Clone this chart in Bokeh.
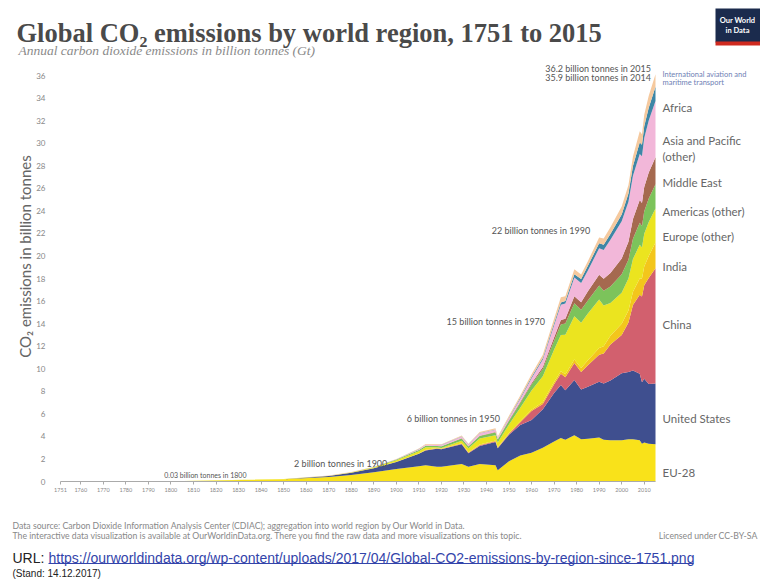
from math import pi
from bokeh.plotting import figure
from bokeh.models import ColumnDataSource, Label, FixedTicker, BoxAnnotation
from bokeh.embed import file_html
from bokeh.resources import INLINE

# ---------------- data (billion tonnes CO2) ----------------
years = [1751, 1800, 1850, 1870, 1880, 1890, 1900, 1910, 1913, 1918, 1920, 1929, 1932,
         1937, 1944, 1945, 1950, 1955, 1960, 1965, 1970, 1973, 1975, 1979, 1982, 1985,
         1990, 1992, 1995, 2000, 2003, 2005, 2008, 2009, 2010, 2012, 2015]

eu28 = [0.009, 0.028, 0.19, 0.40, 0.58, 0.82, 1.10, 1.35, 1.45, 1.30, 1.30, 1.55, 1.30,
        1.55, 1.45, 1.00, 1.80, 2.30, 2.55, 3.00, 3.55, 3.85, 3.70, 4.10, 3.75, 3.80,
        3.90, 3.70, 3.65, 3.65, 3.75, 3.75, 3.65, 3.35, 3.45, 3.35, 3.30]
united_states = [0.0, 0.0005, 0.02, 0.09, 0.19, 0.36, 0.62, 1.10, 1.30, 1.60, 1.55, 1.75, 1.20,
                 1.60, 2.05, 1.95, 2.35, 2.70, 2.90, 3.40, 4.30, 4.70, 4.40, 4.90, 4.40, 4.60,
                 4.95, 5.00, 5.30, 5.95, 5.95, 6.10, 5.90, 5.45, 5.65, 5.30, 5.40]
china = [0, 0, 0, 0, 0, 0, 0.001, 0.01, 0.02, 0.03, 0.03, 0.04, 0.05,
         0.06, 0.07, 0.03, 0.08, 0.25, 0.80, 0.48, 0.78, 1.00, 1.15, 1.50, 1.55, 1.90,
         2.40, 2.65, 3.20, 3.40, 4.40, 5.80, 7.00, 7.60, 8.30, 9.40, 10.20]
india = [0, 0, 0, 0.001, 0.004, 0.01, 0.02, 0.03, 0.04, 0.05, 0.05, 0.06, 0.05,
         0.06, 0.07, 0.07, 0.07, 0.09, 0.12, 0.16, 0.20, 0.23, 0.26, 0.31, 0.37, 0.45,
         0.58, 0.65, 0.78, 0.98, 1.06, 1.17, 1.45, 1.60, 1.66, 1.95, 2.30]
europe_other = [0.001, 0.001, 0.01, 0.02, 0.04, 0.07, 0.14, 0.20, 0.23, 0.05, 0.05, 0.22, 0.35,
                0.55, 0.45, 0.40, 0.75, 1.20, 1.70, 2.30, 2.85, 3.20, 3.50, 3.85, 4.00, 4.15,
                4.30, 3.60, 2.90, 2.75, 2.85, 2.90, 3.00, 2.75, 2.90, 3.00, 3.00]
americas_other = [0, 0, 0.002, 0.008, 0.015, 0.03, 0.06, 0.11, 0.13, 0.12, 0.15, 0.20, 0.16,
                  0.22, 0.26, 0.27, 0.32, 0.42, 0.52, 0.64, 0.80, 0.95, 1.00, 1.15, 1.15, 1.15,
                  1.25, 1.32, 1.45, 1.65, 1.65, 1.80, 1.95, 1.90, 2.00, 2.10, 2.15]
middle_east = [0, 0, 0, 0, 0, 0, 0, 0.001, 0.002, 0.003, 0.004, 0.01, 0.01,
               0.02, 0.03, 0.03, 0.05, 0.08, 0.12, 0.18, 0.28, 0.40, 0.42, 0.62, 0.68, 0.82,
               0.95, 1.05, 1.20, 1.40, 1.60, 1.75, 2.00, 2.05, 2.15, 2.30, 2.40]
asia_pacific_other = [0, 0, 0, 0.002, 0.005, 0.01, 0.03, 0.06, 0.08, 0.10, 0.10, 0.15, 0.15,
                      0.22, 0.20, 0.10, 0.20, 0.30, 0.45, 0.65, 1.10, 1.35, 1.35, 1.65, 1.70, 1.85,
                      2.35, 2.55, 2.95, 3.30, 3.55, 3.85, 4.10, 4.15, 4.35, 4.60, 5.00]
africa = [0, 0, 0, 0, 0.001, 0.002, 0.005, 0.01, 0.012, 0.015, 0.02, 0.025, 0.025,
          0.03, 0.04, 0.04, 0.06, 0.08, 0.10, 0.13, 0.17, 0.20, 0.22, 0.30, 0.35, 0.40,
          0.45, 0.47, 0.52, 0.60, 0.72, 0.85, 1.00, 1.00, 1.05, 1.15, 1.25]
international_transport = [0, 0, 0, 0, 0, 0, 0.02, 0.05, 0.06, 0.05, 0.06, 0.08, 0.06,
                           0.08, 0.10, 0.10, 0.15, 0.20, 0.25, 0.30, 0.40, 0.45, 0.42, 0.45, 0.40, 0.42,
                           0.50, 0.55, 0.60, 0.70, 0.75, 0.85, 1.00, 0.95, 1.00, 1.05, 1.10]

series_keys = ["eu28", "united_states", "china", "india", "europe_other", "americas_other",
               "middle_east", "asia_pacific_other", "africa", "international_transport"]
series_colors = ["#f9e21a", "#3f4f8f", "#d2606e", "#f3c61c", "#ebe41f", "#7cc35b",
                 "#a5694f", "#f2b7d9", "#3d86a6", "#f5c99e"]

y_ticks = list(range(0, 38, 2))
x_ticks = [1751] + list(range(1760, 2011, 10))

# milestone annotations of the world total
ann_years = [1900, 1950, 1970, 1990]
ann_texts = ["2 billion tonnes in 1900", "6 billion tonnes in 1950",
             "15 billion tonnes in 1970", "22 billion tonnes in 1990"]
ann_values = [1.6, 5.6, 14.2, 22.3]

# ---------------- layout constants (page pixels) ----------------
W, H = 760, 580
PX_LEFT, PX_RIGHT = 60, 655      # page x of 1751 and 2015
PY_ZERO, PY_36 = 481, 75         # page y of 0 and 36
xs = (PX_RIGHT - PX_LEFT) / (2015 - 1751)
ys = (PY_ZERO - PY_36) / 36.0
x_start = 1751 - PX_LEFT / xs
x_end = 2015 + (W - PX_RIGHT) / xs
y_end = PY_ZERO / ys
y_start = -(H - PY_ZERO) / ys

p = figure(width=W, height=H, x_range=(x_start, x_end), y_range=(y_start, y_end),
           output_backend="svg", toolbar_location=None,
           min_border_left=0, min_border_right=0, min_border_top=0, min_border_bottom=0)
p.title = None
p.outline_line_color = None
p.xgrid.grid_line_color = None
p.ygrid.grid_line_color = None
p.background_fill_color = "white"
p.border_fill_color = "white"

src = ColumnDataSource(dict(year=years, eu28=eu28, united_states=united_states, china=china,
                            india=india, europe_other=europe_other, americas_other=americas_other,
                            middle_east=middle_east, asia_pacific_other=asia_pacific_other,
                            africa=africa, international_transport=international_transport))
p.varea_stack(stackers=series_keys, x="year", color=series_colors, source=src)
p.line(x=[years[0], years[-1]], y=[0, 0], line_color="#aaaaaa", line_width=1)

# axes drawn at fixed positions inside the frame
p.yaxis.fixed_location = 1751
p.yaxis.ticker = FixedTicker(ticks=y_ticks)
p.yaxis.axis_line_color = None
p.yaxis.major_tick_line_color = None
p.yaxis.minor_tick_line_color = None
p.yaxis.major_label_standoff = 9
p.yaxis.major_label_text_font_size = "8px"
p.yaxis.major_label_text_color = "#888888"
p.yaxis.major_label_text_font = "Lato"

p.xaxis.fixed_location = 0
p.xaxis.ticker = FixedTicker(ticks=x_ticks)
p.xaxis.axis_line_color = None
p.xaxis.major_tick_line_color = "#aaaaaa"
p.xaxis.major_tick_out = 3
p.xaxis.major_tick_in = 0
p.xaxis.minor_tick_line_color = None
p.xaxis.major_label_standoff = 3
p.xaxis.major_label_text_font_size = "5.5px"
p.xaxis.major_label_text_color = "#888888"
p.xaxis.major_label_text_font = "Lato"


def page_label(text, px, py, size, color, font="Lato", style="normal",
               align="left", baseline="alphabetic", **kw):
    p.add_layout(Label(x=px, y=H - py, x_units="screen", y_units="screen", text=text,
                       text_font=font, text_font_size=size, text_color=color,
                       text_font_style=style, text_align=align, text_baseline=baseline, **kw))


def page_box(x0, x1, y0, y1, color):
    p.add_layout(BoxAnnotation(left=x0, right=x1, bottom=H - y1, top=H - y0,
                               left_units="screen", right_units="screen",
                               bottom_units="screen", top_units="screen",
                               fill_color=color, fill_alpha=1, line_color=None))


# y axis title
page_label("CO₂ emissions in billion tonnes", 24, 256, "15px", "#666666",
           align="center", baseline="middle", angle=pi / 2)

# title / subtitle
page_label("Global CO₂ emissions by world region, 1751 to 2015", 16, 32, "26.5px", "#4a4a4a",
           font="Liberation Serif", style="bold")
page_label("Annual carbon dioxide emissions in billion tonnes (Gt)", 18, 50, "13.5px", "#8a8a8a",
           font="Liberation Serif", style="italic")

# logo
page_box(715, 760, 8, 42, "#1b2b4d")
page_box(715, 760, 41, 45, "#cf2a1f")
page_label("Our World\nin Data", 737, 25, "7.5px", "white", style="bold", align="center",
           baseline="middle")

# milestone annotations (on data)
for yr, txt, val in zip(ann_years, ann_texts, ann_values):
    p.add_layout(Label(x=yr - 4, y=val, text=txt, text_font="Lato", text_font_size="9px",
                       text_color="#555555", text_align="right", text_baseline="middle"))
p.add_layout(Label(x=1797, y=0.25, text="0.03 billion tonnes in 1800", text_font="Lato",
                   text_font_size="7px", text_color="#555555", text_align="left",
                   text_baseline="bottom"))
p.add_layout(Label(x=2013, y=36.6, text="36.2 billion tonnes in 2015", text_font="Lato",
                   text_font_size="9px", text_color="#555555", text_align="right",
                   text_baseline="middle"))
p.add_layout(Label(x=2013, y=35.8, text="35.9 billion tonnes in 2014", text_font="Lato",
                   text_font_size="9px", text_color="#555555", text_align="right",
                   text_baseline="middle"))

# right-hand region labels
region_labels = [("International aviation and", 36.1, "7.5px", "#6f7fb5"),
                 ("maritime transport", 35.35, "7.5px", "#6f7fb5"),
                 ("Africa", 33.2, "11.5px", "#666666"),
                 ("Asia and Pacific", 30.2, "11.5px", "#666666"),
                 ("(other)", 28.8, "11.5px", "#666666"),
                 ("Middle East", 26.5, "11.5px", "#666666"),
                 ("Americas (other)", 23.9, "11.5px", "#666666"),
                 ("Europe (other)", 21.7, "11.5px", "#666666"),
                 ("India", 19.1, "11.5px", "#666666"),
                 ("China", 13.9, "11.5px", "#666666"),
                 ("United States", 5.6, "11.5px", "#666666"),
                 ("EU-28", 0.8, "11.5px", "#666666")]
for txt, yv, fs, col in region_labels:
    p.add_layout(Label(x=662, y=yv, x_units="screen", y_units="data", text=txt,
                       text_font="Lato", text_font_size=fs, text_color=col,
                       text_align="left", text_baseline="middle"))

# footer
page_label("Data source: Carbon Dioxide Information Analysis Center (CDIAC); aggregation into world region by Our World in Data.",
           12, 525, "8.7px", "#888888")
page_label("The interactive data visualization is available at OurWorldinData.org. There you find the raw data and more visualizations on this topic.",
           12, 535, "8.7px", "#888888")
page_label("Licensed under CC-BY-SA", 757, 535, "8.7px", "#888888", align="right")
page_label("URL:", 12, 557, "14px", "#222222", font="Liberation Sans")
page_label("https://ourworldindata.org/wp-content/uploads/2017/04/Global-CO2-emissions-by-region-since-1751.png",
           48, 557, "14px", "#3344aa", font="Liberation Sans")
page_box(48, 693, 562.5, 563.5, "#3344aa")
page_label("(Stand: 14.12.2017)", 12, 573, "10px", "#222222", font="Liberation Sans")

open("out.html", "w").write(file_html(p, INLINE))
